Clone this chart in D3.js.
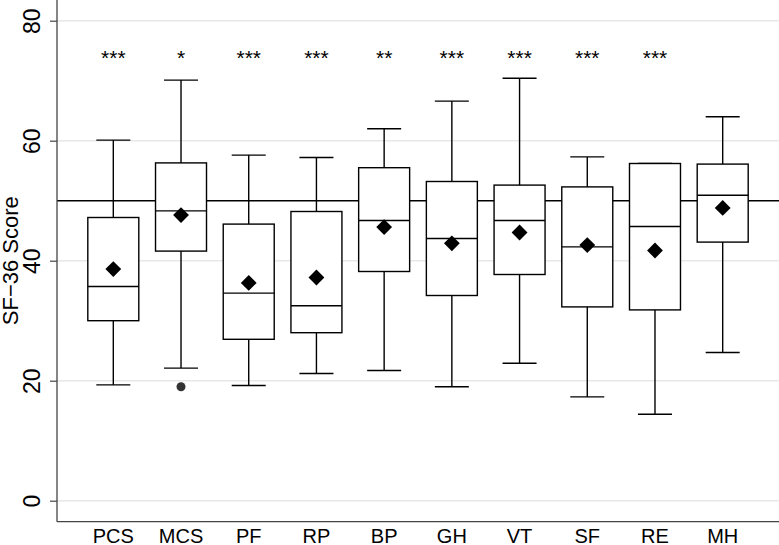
<!DOCTYPE html>
<html>
<head>
<meta charset="utf-8">
<script src="https://cdn.jsdelivr.net/npm/d3@7"></script>
<style>
  html, body { margin: 0; padding: 0; background: #fff; }
  svg { display: block; font-family: "Liberation Sans", Arial, sans-serif; }
</style>
</head>
<body>
<svg id="chart" width="779" height="545"></svg>
<script>
// ---- data ----
const categories  = ["PCS", "MCS", "PF", "RP", "BP", "GH", "VT", "SF", "RE", "MH"];
const whiskerLow  = [19.3, 22.1, 19.2, 21.2, 21.7, 19.0, 22.9, 17.3, 14.4, 24.7];
const q1          = [30.0, 41.6, 26.9, 28.0, 38.2, 34.2, 37.7, 32.3, 31.8, 43.1];
const median      = [35.7, 48.3, 34.6, 32.5, 46.7, 43.7, 46.7, 42.3, 45.7, 50.9];
const q3          = [47.2, 56.3, 46.1, 48.2, 55.5, 53.2, 52.6, 52.3, 56.2, 56.1];
const whiskerHigh = [60.1, 70.1, 57.6, 57.2, 62.0, 66.6, 70.4, 57.3, 56.2, 64.0];
const means       = [38.6, 47.6, 36.3, 37.2, 45.6, 42.9, 44.7, 42.6, 41.7, 48.8];
const outlierCat  = ["MCS"];
const outlierVal  = [19.0];
const significance = ["***", "*", "***", "***", "**", "***", "***", "***", "***", ""];
const yTicks = [0, 20, 40, 60, 80];
const referenceValue = 50;
const starLevel = 72.6;
const yTitle = "SF\u221236 Score";

// ---- layout ----
const svg = d3.select("#chart");
const W = 779, H = 545;
const axisX = 57, axisY = 521.7;

const y = d3.scaleLinear().domain([0, 80]).range([500.7, 20.7]);
const x = d3.scaleBand().domain(categories).range([79.45, 756.55]).paddingInner(0).paddingOuter(0);
const boxW = x.bandwidth() * 0.753;
const capW = 34;

const data = categories.map((c, i) => ({
  cat: c, lo: whiskerLow[i], q1: q1[i], med: median[i], q3: q3[i], hi: whiskerHigh[i],
  mean: means[i], sig: significance[i]
}));

// gridlines
svg.append("g").selectAll("line").data(yTicks).join("line")
  .attr("x1", axisX).attr("x2", W)
  .attr("y1", d => y(d)).attr("y2", d => y(d))
  .attr("stroke", "#e8e8e8").attr("stroke-width", 1.5);

// reference line
svg.append("line")
  .attr("x1", axisX).attr("x2", W)
  .attr("y1", y(referenceValue)).attr("y2", y(referenceValue))
  .attr("stroke", "#000").attr("stroke-width", 1.5);

const cx = d => x(d.cat) + x.bandwidth() / 2;

const g = svg.append("g");
const boxes = g.selectAll("g.box").data(data).join("g").attr("class", "box");

// whiskers
boxes.append("line")
  .attr("x1", cx).attr("x2", cx)
  .attr("y1", d => y(d.hi)).attr("y2", d => y(d.lo))
  .attr("stroke", "#000").attr("stroke-width", 1.4);
boxes.append("line")
  .attr("x1", d => cx(d) - capW / 2).attr("x2", d => cx(d) + capW / 2)
  .attr("y1", d => y(d.hi)).attr("y2", d => y(d.hi))
  .attr("stroke", "#000").attr("stroke-width", 1.4);
boxes.append("line")
  .attr("x1", d => cx(d) - capW / 2).attr("x2", d => cx(d) + capW / 2)
  .attr("y1", d => y(d.lo)).attr("y2", d => y(d.lo))
  .attr("stroke", "#000").attr("stroke-width", 1.4);

// boxes
boxes.append("rect")
  .attr("x", d => cx(d) - boxW / 2).attr("width", boxW)
  .attr("y", d => y(d.q3)).attr("height", d => y(d.q1) - y(d.q3))
  .attr("fill", "#fff").attr("stroke", "#000").attr("stroke-width", 1.4);
boxes.append("line")
  .attr("x1", d => cx(d) - boxW / 2).attr("x2", d => cx(d) + boxW / 2)
  .attr("y1", d => y(d.med)).attr("y2", d => y(d.med))
  .attr("stroke", "#000").attr("stroke-width", 1.4);

// means (diamonds)
const diamond = d3.symbol().type(d3.symbolSquare).size(125);
boxes.append("path")
  .attr("d", diamond)
  .attr("transform", d => `translate(${cx(d)},${y(d.mean)}) rotate(45)`)
  .attr("fill", "#000");

// outliers
svg.append("g").selectAll("circle").data(outlierCat.map((c, i) => ({cat: c, v: outlierVal[i]})))
  .join("circle")
  .attr("cx", d => x(d.cat) + x.bandwidth() / 2)
  .attr("cy", d => y(d.v))
  .attr("r", 4.5)
  .attr("fill", "#333");

// significance stars
svg.append("g").selectAll("text").data(data).join("text")
  .attr("x", cx).attr("y", y(starLevel))
  .attr("text-anchor", "middle")
  .attr("font-size", 21).attr("fill", "#000")
  .text(d => d.sig);

// axes
const yAxis = d3.axisLeft(y).tickValues(yTicks).tickSize(7).tickPadding(5);
const yg = svg.append("g").attr("transform", `translate(${axisX},0)`).call(yAxis);
yg.select(".domain").remove();
yg.selectAll(".tick line").attr("stroke", "#444").attr("stroke-width", 1.2);
yg.selectAll(".tick text")
  .attr("font-size", 23).attr("fill", "#000")
  .attr("font-family", "Liberation Sans, Arial, sans-serif")
  .attr("x", null).attr("dy", null)
  .attr("text-anchor", "middle")
  .attr("transform", "translate(-25,0) rotate(-90)")
  .attr("dominant-baseline", "central");

svg.append("line").attr("x1", axisX).attr("x2", axisX).attr("y1", 0).attr("y2", axisY)
  .attr("stroke", "#444").attr("stroke-width", 1.3);

const xAxis = d3.axisBottom(x).tickSize(0).tickPadding(0);
const xg = svg.append("g").attr("transform", `translate(0,${axisY})`).call(xAxis);
xg.select(".domain").remove();
xg.selectAll(".tick text")
  .attr("font-size", 20).attr("fill", "#000")
  .attr("font-family", "Liberation Sans, Arial, sans-serif")
  .attr("dy", null).attr("y", 21.5);

svg.append("line").attr("x1", axisX).attr("x2", W).attr("y1", axisY).attr("y2", axisY)
  .attr("stroke", "#444").attr("stroke-width", 1.3);

// y title
svg.append("text")
  .attr("transform", `translate(10,${y(40)}) rotate(-90)`)
  .attr("text-anchor", "middle").attr("dominant-baseline", "central")
  .attr("font-size", 22).attr("fill", "#000")
  .text(yTitle);
</script>
</body>
</html>
